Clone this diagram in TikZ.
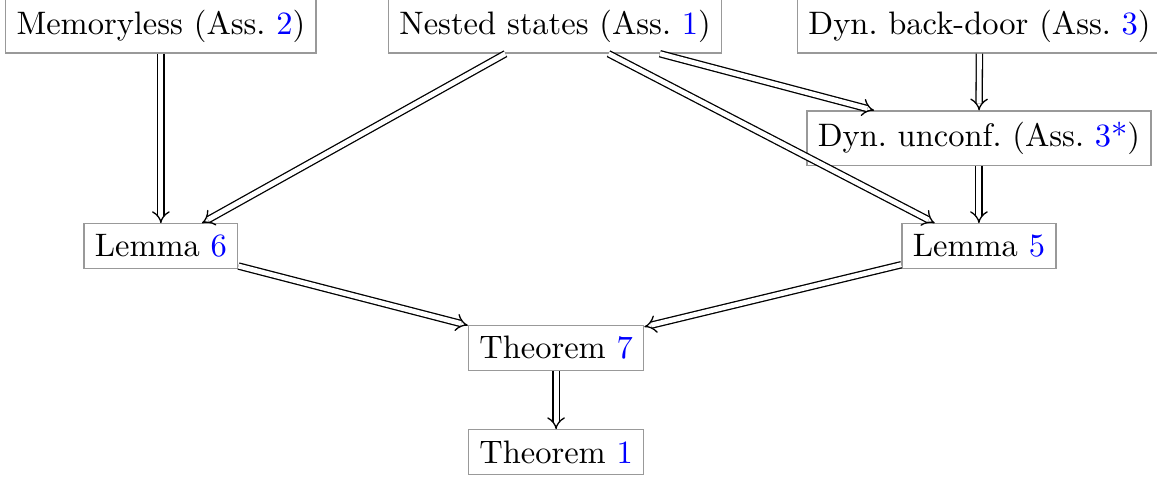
\documentclass[tikz,border=0pt]{standalone}
\usetikzlibrary{arrows.meta}
\begin{document}
\begin{tikzpicture}[x=1pt,y=1pt,
  box/.style={draw=gray!80, line width=0.4pt},
  arr/.style={double, double distance=1.5pt, line width=0.4pt, -{Implies}}]
\useasboundingbox (0,0) rectangle (356,-146.77);
\node[box] (mem) at (49.5,-8.0) {Memoryless (Ass.~\textcolor{blue}{2})};
\node[box] (nest) at (170.8,-8.0) {Nested states (Ass.~\textcolor{blue}{1})};
\node[box] (back) at (301.4,-8.0) {Dyn.~back-door (Ass.~\textcolor{blue}{3})};
\node[box] (unc) at (301.2,-42.5) {Dyn.~unconf.~(Ass.~\textcolor{blue}{3*})};
\node[box] (lem6) at (49.5,-75.7) {Lemma \textcolor{blue}{6}};
\node[box] (lem5) at (301.2,-75.7) {Lemma \textcolor{blue}{5}};
\node[box] (thm7) at (171.1,-107.1) {Theorem \textcolor{blue}{7}};
\node[box] (thm1) at (171.1,-139.1) {Theorem \textcolor{blue}{1}};
\draw[arr] (mem) -- (lem6);
\draw[arr] (nest) -- (lem6);
\draw[arr] (nest) -- (lem5);
\draw[arr] (nest) -- (unc);
\draw[arr] (back) -- (unc);
\draw[arr] (unc) -- (lem5);
\draw[arr] (lem6) -- (thm7);
\draw[arr] (lem5) -- (thm7);
\draw[arr] (thm7) -- (thm1);
\end{tikzpicture}
\end{document}
